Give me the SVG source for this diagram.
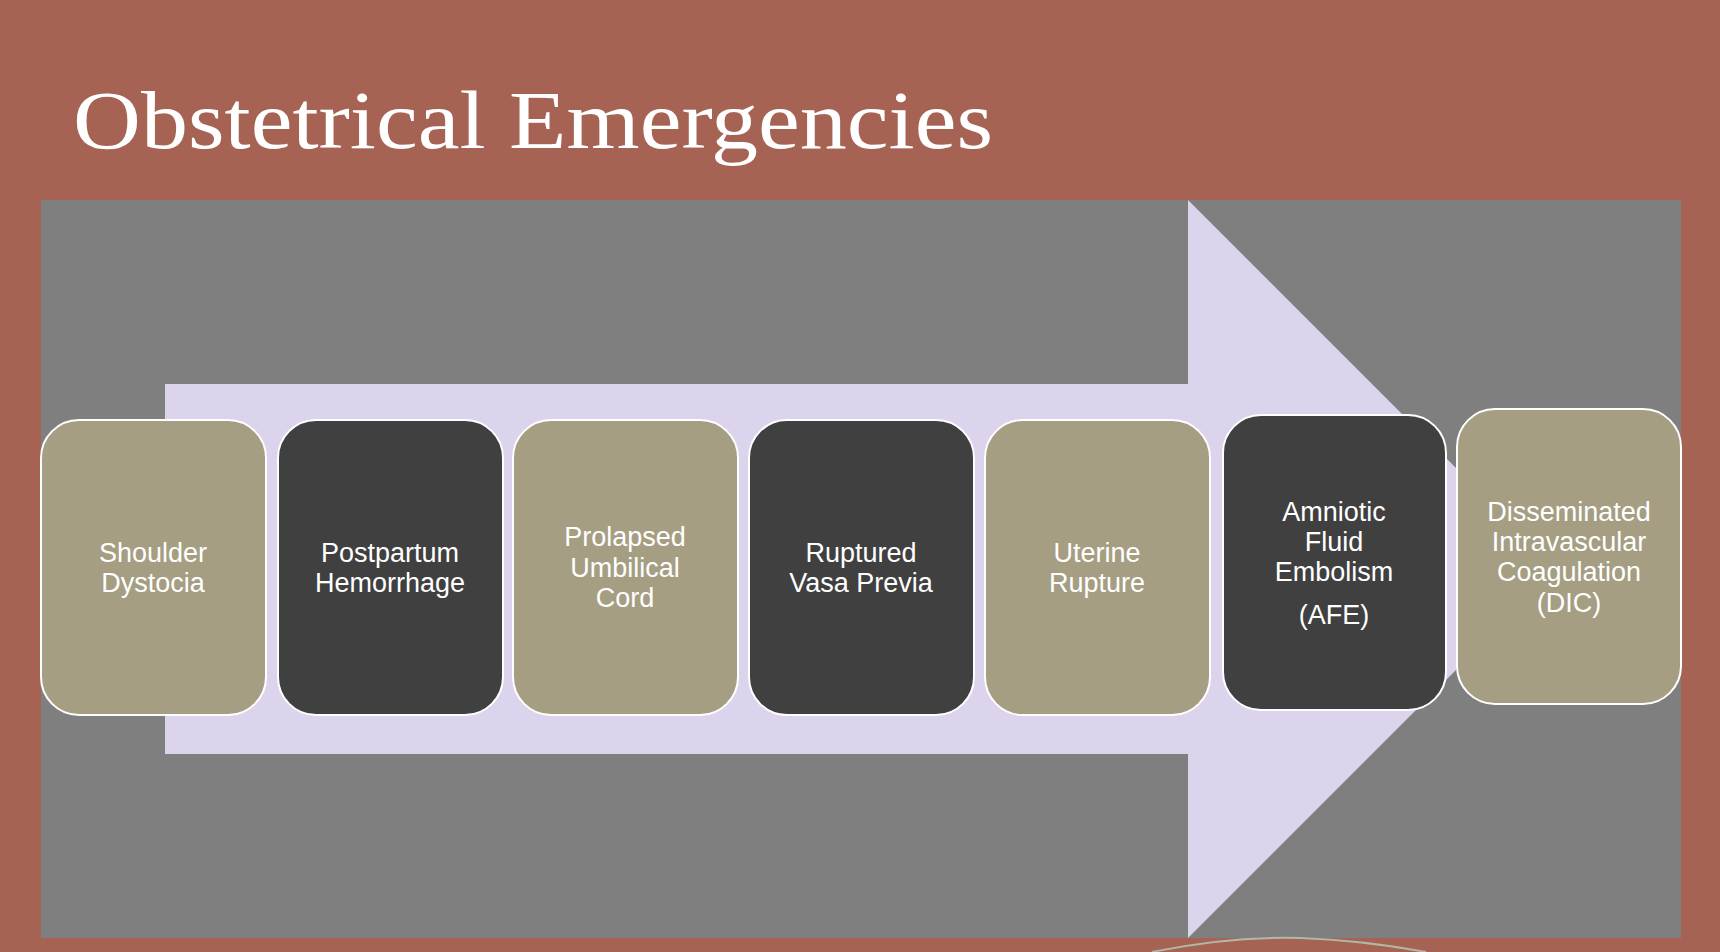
<svg xmlns="http://www.w3.org/2000/svg" width="1720" height="952" viewBox="0 0 1720 952">
<style>
.n{stroke:#fff;stroke-width:2}
.t{fill:#a59e82}.d{fill:#404040}
text.l{font-family:"Liberation Sans","DejaVu Sans",sans-serif;font-size:27px;fill:#fff;text-anchor:middle}
</style>
<rect width="1720" height="952" fill="#a66354"/>
<text x="73" y="148" font-family="Liberation Serif,DejaVu Serif,serif" font-size="82" fill="#fff" textLength="920" lengthAdjust="spacingAndGlyphs">Obstetrical Emergencies</text>
<rect x="41" y="200" width="1640" height="738" fill="#7f7f7f"/>
<g id="connectors">
<polygon points="165,384 1188,384 1188,200 1557,569 1188,938 1188,754 165,754" fill="#dcd3ec"/>
</g>
<path d="M1152,952 Q1230,936 1300,938 Q1360,940 1426,952" fill="none" stroke="#b0b8a8" stroke-width="2"/>
<g id="n1"><rect class="n t" x="41" y="420" width="225" height="295" rx="38"/><text class="l" x="153" y="562">Shoulder</text><text class="l" x="153" y="592">Dystocia</text></g>
<g id="n2"><rect class="n d" x="278" y="420" width="225" height="295" rx="38"/><text class="l" x="390" y="562">Postpartum</text><text class="l" x="390" y="592">Hemorrhage</text></g>
<g id="n3"><rect class="n t" x="513" y="420" width="225" height="295" rx="38"/><text class="l" x="625" y="546">Prolapsed</text><text class="l" x="625" y="577">Umbilical</text><text class="l" x="625" y="607">Cord</text></g>
<g id="n4"><rect class="n d" x="749" y="420" width="225" height="295" rx="38"/><text class="l" x="861" y="562">Ruptured</text><text class="l" x="861" y="592">Vasa Previa</text></g>
<g id="n5"><rect class="n t" x="985" y="420" width="225" height="295" rx="38"/><text class="l" x="1097" y="562">Uterine</text><text class="l" x="1097" y="592">Rupture</text></g>
<g id="n6"><rect class="n d" x="1223" y="415" width="223" height="295" rx="38"/><text class="l" x="1334" y="521">Amniotic</text><text class="l" x="1334" y="551">Fluid</text><text class="l" x="1334" y="581">Embolism</text><text class="l" x="1334" y="624">(AFE)</text></g>
<g id="n7"><rect class="n t" x="1457" y="409" width="224" height="295" rx="38"/><text class="l" x="1569" y="521">Disseminated</text><text class="l" x="1569" y="551">Intravascular</text><text class="l" x="1569" y="581">Coagulation</text><text class="l" x="1569" y="612">(DIC)</text></g>
</svg>
